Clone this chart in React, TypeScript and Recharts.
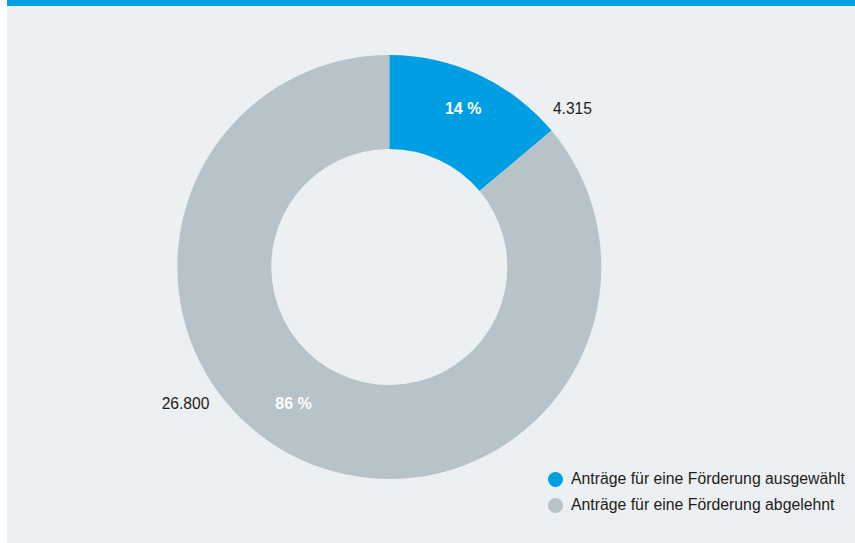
import React from "react"
import { Cell, Legend, Pie, PieChart } from "recharts"

const categories = ["Anträge für eine Förderung ausgewählt", "Anträge für eine Förderung abgelehnt"]
const counts = [4315, 26800]
const colors = ["#009FE3", "#B8C3C9"]

const data = categories.map((name, i) => ({ name, value: counts[i] }))

const OUTER = 212
const INNER = 118
const RAD = Math.PI / 180
const FONT = "'Liberation Sans', Arial, Helvetica, sans-serif"

const formatNumber = (n: number) => String(n).replace(/\B(?=(\d{3})+(?!\d))/g, ".")

const renderLabel = (props: any) => {
  const { cx, cy, midAngle, percent, value, index } = props
  // big slice label sits a bit ahead of its mid angle, like in the original
  const r = index === 0 ? 175 : 167
  const a = (index === 0 ? midAngle : midAngle - 10) * RAD
  const x = cx + r * Math.cos(a)
  const y = cy - r * Math.sin(a)
  const dy = y - cy
  const right = x > cx
  const edge = Math.sqrt(OUTER * OUTER - dy * dy) + (right ? 23 : 18)
  const vx = right ? cx + edge : cx - edge

  return (
    <g>
      <text
        x={x}
        y={y}
        fill="#ffffff"
        fontWeight="bold"
        fontSize={16}
        fontFamily={FONT}
        textAnchor="middle"
        dominantBaseline="central"
      >
        {`${Math.round(percent * 100)} %`}
      </text>
      <text
        x={vx}
        y={y}
        fill="#1d1d1b"
        fontSize={15.6}
        fontFamily={FONT}
        textAnchor={right ? "start" : "end"}
        dominantBaseline="central"
      >
        {formatNumber(value)}
      </text>
    </g>
  )
}

const LegendContent = () => (
  <ul style={{ margin: 0, padding: 0, listStyle: "none", fontFamily: FONT, fontSize: 15.8, color: "#1d1d1b" }}>
    {categories.map((c, i) => (
      <li key={c} style={{ display: "flex", alignItems: "center", height: 26, whiteSpace: "nowrap" }}>
        <span
          style={{
            display: "inline-block",
            width: 15,
            height: 15,
            borderRadius: "50%",
            background: colors[i],
            marginRight: 8,
          }}
        />
        {c}
      </li>
    ))}
  </ul>
)

export default function App() {
  return (
    <div style={{ position: "relative", width: 855, height: 543, background: "#ffffff", overflow: "hidden" }}>
      <style>{"body{margin:0}"}</style>
      <div style={{ position: "absolute", left: 7, top: 0, right: 0, bottom: 0, background: "#ECF0F3" }} />
      <div style={{ position: "absolute", left: 7, top: 0, right: 0, height: 6, background: "#009FE3" }} />
      <div style={{ position: "absolute", left: 0, top: 0 }}>
        <PieChart width={855} height={543} margin={{ top: 0, right: 0, bottom: 0, left: 0 }}>
          <Pie
            data={data}
            dataKey="value"
            nameKey="name"
            cx={389.3}
            cy={267}
            innerRadius={INNER}
            outerRadius={OUTER}
            startAngle={90}
            endAngle={-270}
            stroke="none"
            label={renderLabel}
            labelLine={false}
            isAnimationActive={false}
          >
            {data.map((d, i) => (
              <Cell key={d.name} fill={colors[i]} />
            ))}
          </Pie>
          <Legend
            layout="vertical"
            content={<LegendContent />}
            wrapperStyle={{ left: 548, top: 466, width: 300 }}
          />
        </PieChart>
      </div>
    </div>
  )
}
